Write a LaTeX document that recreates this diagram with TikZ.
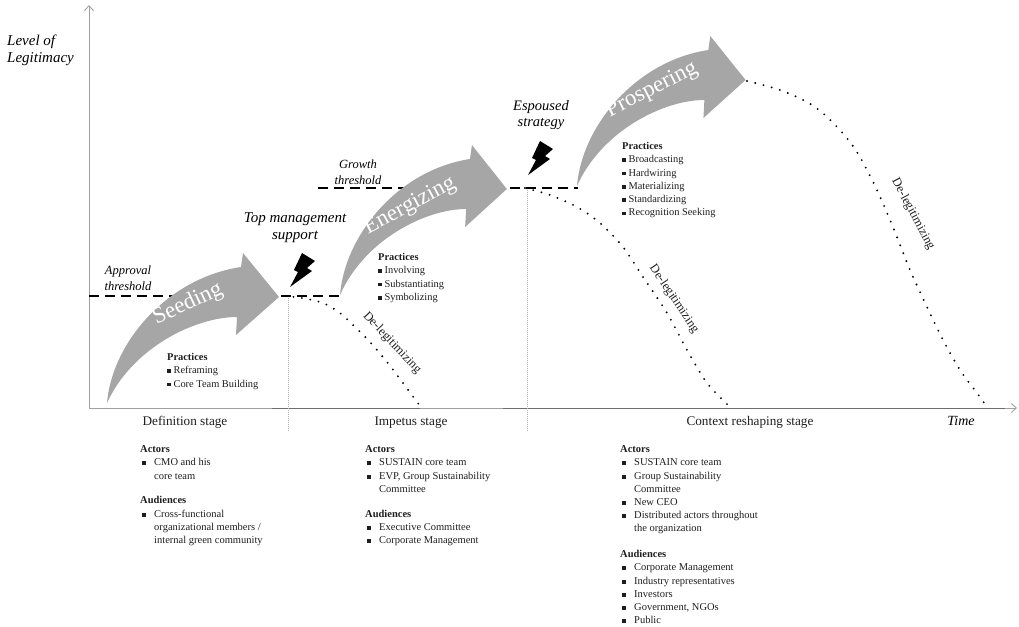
\documentclass[tikz,border=0pt]{standalone}
\usepackage{fontspec}
\setmainfont{Liberation Serif}
\usetikzlibrary{arrows.meta}
\definecolor{arrowgray}{RGB}{166,166,166}
\definecolor{axisgray}{RGB}{160,160,160}
\definecolor{axisdark}{RGB}{110,110,110}
\definecolor{textdark}{RGB}{30,30,30}
\newcommand\bul{\hspace*{2pt}\makebox[12pt][l]{\raisebox{0.5pt}{\rule{4pt}{4pt}}}}
\newcommand\bulind{\hspace*{14pt}}
\newcommand\prbul{\raisebox{0.6pt}{\rule{3.8pt}{3.8pt}}\hspace{2.6pt}}
\begin{document}
\begin{tikzpicture}[x=1pt,y=-1pt,
  thr/.style={line width=2.6pt, dash pattern=on 10pt off 6pt},
  dl/.style={line width=2.1pt, line cap=round, dash pattern=on 0pt off 8.5pt},
  stagesep/.style={draw=gray!60, line width=0.5pt, dash pattern=on 1pt off 1pt},
  axis/.style={draw=axisgray, line width=0.9pt},
  axtip/.style={-{Straight Barb[length=5pt,width=9pt]}},
  arrowtxt/.style={text=white, font=\fontsize{23}{23}\selectfont, inner sep=0},
  smalllab/.style={font=\itshape\fontsize{12.5}{15.5}\selectfont, align=center, anchor=north, inner sep=0},
  biglab/.style={font=\itshape\fontsize{15}{17}\selectfont, align=center, anchor=north, inner sep=0},
  stagelab/.style={font=\fontsize{13.2}{13.2}\selectfont, anchor=base, inner sep=0, text=textdark},
  deleg/.style={font=\fontsize{12.5}{12.5}\selectfont, inner sep=0, text=textdark},
  pblock/.style={anchor=north west, inner sep=0, align=left, font=\fontsize{10.4}{13.3}\selectfont, text=textdark},
  actblock/.style={anchor=north west, inner sep=0, align=left, font=\fontsize{10.5}{13.2}\selectfont, text=textdark},
  curvarrow/.pic={\fill[arrowgray] (0,0) .. controls (5,-60) and (60,-125) .. (134,-136) -- (136,-150) -- (172,-106) -- (129,-68) -- (130,-86) .. controls (88,-86) and (25,-55) .. (0,0) -- cycle;},
  boltshape/.pic={\fill[black] (0,0) -- (8,-15) -- (4,-17) -- (12,-34) -- (25,-26) -- (17,-19) -- (22,-16) -- cycle;}
]
\useasboundingbox (0,0) rectangle (1019,626);

% axes
\coordinate (origin) at (89,408);
\coordinate (ytop) at (89,5);
\coordinate (xend) at (1017,408);
\draw[axis, axtip] (origin) -- (ytop);
\draw[axis, axtip] (origin) -- (xend);
\draw[draw=axisdark, line width=1pt] (272,408) -- (420,408);
\draw[draw=axisdark, line width=1pt] (503,408) -- (1005,408);

% stage separators
\coordinate (sep1top) at (288,296);
\coordinate (sep1bot) at (288,432);
\coordinate (sep2top) at (527,188);
\coordinate (sep2bot) at (527,432);
\draw[stagesep] (sep1top) -- (sep1bot);
\draw[stagesep] (sep2top) -- (sep2bot);

% thresholds
\coordinate (apL) at (89,296);
\coordinate (apR) at (345,296);
\coordinate (grL) at (318,188);
\coordinate (grR) at (578,188);
\draw[thr] (apL) -- (apR);
\draw[thr] (grL) -- (grR);

% de-legitimizing curves
\draw[dl] plot[smooth, tension=0.5] coordinates {(285,296) (302,298) (323,303) (340,313) (353,325) (370,342) (387,362) (403,383) (420,406)};
\draw[dl] plot[smooth, tension=0.5] coordinates {(525,188) (550,195) (577,207) (600,223) (623,247) (643,277) (667,313) (687,350) (707,383) (730,407)};
\draw[dl] plot[smooth, tension=0.5] coordinates {(747,81) (763,85) (780,90) (797,97) (812,105) (825,115) (838,128) (850,142) (860,157) (868,172) (877,190) (893,227) (910,270) (927,307) (943,340) (960,370) (977,393) (987,407)};

% big curved arrows
\pic (seed) at (107,403) {curvarrow};
\pic[xscale=0.97] (energ) at (340,295) {curvarrow};
\pic[xscale=0.98] (prosp) at (577,186) {curvarrow};

\node[arrowtxt, rotate=25] (seedtxt) at (188,304) {Seeding};
\node[arrowtxt, rotate=28] (energtxt) at (410,206) {Energizing};
\node[arrowtxt, rotate=27] (prosptxt) at (652,90) {Prospering};

% lightning bolts
\pic (bolt1) at (290,287) {boltshape};
\pic (bolt2) at (528,175) {boltshape};

% axis labels
\node[anchor=north west, align=left, inner sep=0, font=\itshape\fontsize{15}{17}\selectfont] (ylab) at (7,35) {Level of\\Legitimacy};
\node[anchor=base, inner sep=0, font=\itshape\fontsize{14}{14}\selectfont] (timelab) at (961,425) {Time};

% event labels
\node[smalllab] (approval) at (128,266) {Approval\\threshold};
\node[smalllab] (growth) at (358,160) {Growth\\threshold};
\node[biglab] (topmgmt) at (295,212) {Top management\\support};
\node[biglab, font=\itshape\fontsize{14.5}{16.5}\selectfont] (espoused) at (541,100) {Espoused\\strategy};

% de-legitimizing labels
\node[deleg, rotate=-47] (dl1) at (392,343) {De-legitimizing};
\node[deleg, rotate=-56] (dl2) at (674,299) {De-legitimizing};
\node[deleg, rotate=-62] (dl3) at (913,214) {De-legitimizing};

% practices
\node[pblock] (pseed) at (167,353) {\textbf{Practices}\\\prbul Reframing\\\prbul Core Team Building};
\node[pblock] (penerg) at (378,253) {\textbf{Practices}\\\prbul Involving\\\prbul Substantiating\\\prbul Symbolizing};
\node[pblock] (pprosp) at (622,142) {\textbf{Practices}\\\prbul Broadcasting\\\prbul Hardwiring\\\prbul Materializing\\\prbul Standardizing\\\prbul Recognition Seeking};

% stage labels
\node[stagelab] (stdef) at (185,425) {Definition stage};
\node[stagelab] (stimp) at (411,425) {Impetus stage};
\node[stagelab] (stctx) at (750,425) {Context reshaping stage};

% actors and audiences
\node[actblock] (actdef) at (140,445.5) {\textbf{Actors}\\\bul CMO and his\\\bulind core team\\[11.7pt]\textbf{Audiences}\\\bul Cross-functional\\\bulind organizational members /\\\bulind internal green community};
\node[actblock] (actimp) at (365,445.5) {\textbf{Actors}\\\bul SUSTAIN core team\\\bul EVP, Group Sustainability\\\bulind Committee\\[11.7pt]\textbf{Audiences}\\\bul Executive Committee\\\bul Corporate Management};
\node[actblock] (actctx) at (620,445.5) {\textbf{Actors}\\\bul SUSTAIN core team\\\bul Group Sustainability\\\bulind Committee\\\bul New CEO\\\bul Distributed actors throughout\\\bulind the organization\\[12.7pt]\textbf{Audiences}\\\bul Corporate Management\\\bul Industry representatives\\\bul Investors\\\bul Government, NGOs\\\bul Public};
\end{tikzpicture}
\end{document}
